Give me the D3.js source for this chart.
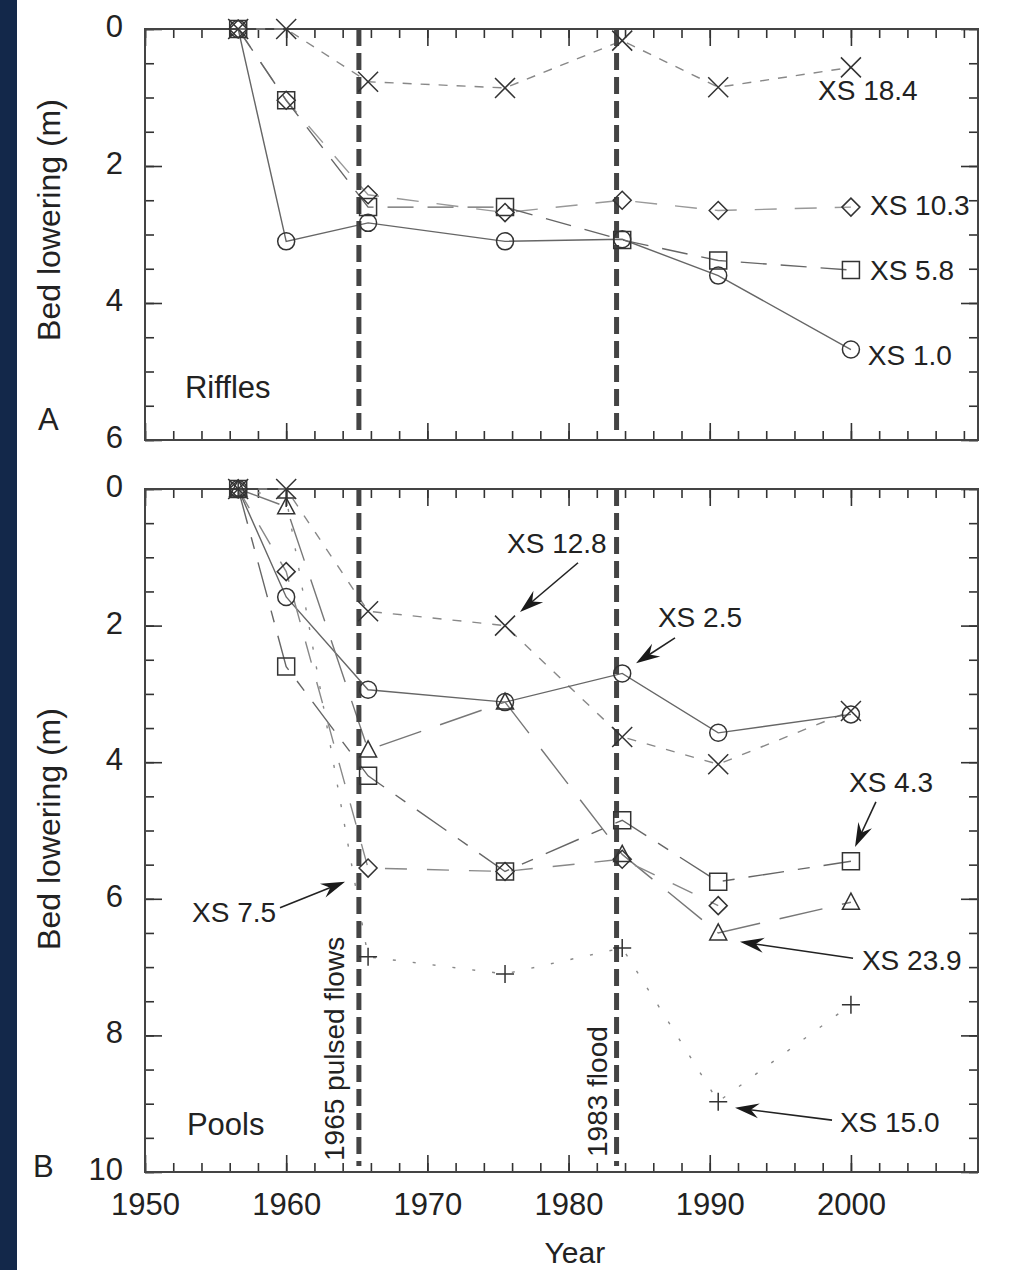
<!DOCTYPE html>
<html>
<head>
<meta charset="utf-8">
<script src="https://cdn.jsdelivr.net/npm/d3@7"></script>
<style>
  html, body { margin: 0; padding: 0; background: #fff; }
  svg { display: block; }
  text { font-family: "Liberation Sans", Arial, Helvetica, sans-serif; fill: #222; }
</style>
</head>
<body>
<svg id="chart" width="1010" height="1270"></svg>
<script>
// survey years (shared by both panels)
const years = [1956.6, 1960, 1965.8, 1975.5, 1983.8, 1990.6, 2000]

// A - riffles, bed lowering (m)
const xs10 = [0, 3.1, 2.83, 3.1, 3.07, 3.6, 4.68]
const xs58 = [0, 1.04, 2.6, 2.6, 3.08, 3.38, 3.52]
const xs103 = [0, 1.04, 2.42, 2.68, 2.5, 2.65, 2.6]
const xs184 = [0, 0, 0.77, 0.86, 0.17, 0.85, 0.56]

// B - pools, bed lowering (m)
const xs25 = [0, 1.58, 2.94, 3.12, 2.7, 3.57, 3.3]
const xs128 = [0, 0, 1.79, 2.0, 3.63, 4.03, 3.25]
const xs43 = [0, 2.6, 4.2, 5.6, 4.85, 5.75, 5.45]
const xs239 = [0, 0.26, 3.82, 3.12, 5.35, 6.5, 6.05]
const xs75 = [0, 1.21, 5.55, 5.6, 5.42, 6.1, null]
const xs150 = [0, 0.13, 6.85, 7.1, 6.72, 8.97, 7.55]

const eventYears = [1965.15, 1983.4]
const eventLabels = ["1965 pulsed flows", "1983 flood"]

const xMajor = [1950, 1960, 1970, 1980, 1990, 2000]
const xMinor = d3.range(1950, 2009, 2)
const yMajorA = [0, 2, 4, 6]
const yMajorB = [0, 2, 4, 6, 8, 10]

const riffles = [
  { name: "XS 18.4", values: xs184, shape: "x", dash: "9,9", color: "#888", lx: 1997.67, ly: 1.04 },
  { name: "XS 10.3", values: xs103, shape: "diamond", dash: "22,18", color: "#999", lx: 2001.35, ly: 2.72 },
  { name: "XS 5.8", values: xs58, shape: "square", dash: "26,14", color: "#666", lx: 2001.35, ly: 3.66 },
  { name: "XS 1.0", values: xs10, shape: "circle", dash: null, color: "#666", lx: 2001.2, ly: 4.9 }
]

const pools = [
  { name: "XS 12.8", values: xs128, shape: "x", dash: "9,11", color: "#888" },
  { name: "XS 2.5", values: xs25, shape: "circle", dash: null, color: "#666" },
  { name: "XS 4.3", values: xs43, shape: "square", dash: "36,14,12,14", color: "#666" },
  { name: "XS 23.9", values: xs239, shape: "triangle", dash: "44,20", color: "#777" },
  { name: "XS 7.5", values: xs75, shape: "diamond", dash: "22,20", color: "#888" },
  { name: "XS 15.0", values: xs150, shape: "plus", dash: "3,17", color: "#888" }
]

// pointer labels in panel B: text anchor, arrow tail, arrow tip (data units)
const poolNotes = [
  { text: "XS 12.8", tx: 1975.64, ty: 0.94, ax: 1980.67, ay: 1.08, hx: 1976.56, hy: 1.80 },
  { text: "XS 2.5", tx: 1986.33, ty: 2.02, ax: 1987.54, ay: 2.18, hx: 1984.78, hy: 2.55 },
  { text: "XS 4.3", tx: 1999.86, ty: 4.44, ax: 2001.77, ay: 4.58, hx: 2000.29, hy: 5.24 },
  { text: "XS 7.5", tx: 1953.33, ty: 6.34, ax: 1959.56, ay: 6.13, hx: 1964.17, hy: 5.75 },
  { text: "XS 23.9", tx: 2000.78, ty: 7.04, ax: 2000.15, ay: 6.87, hx: 1992.14, hy: 6.63 },
  { text: "XS 15.0", tx: 1999.22, ty: 9.41, ax: 1998.66, ay: 9.24, hx: 1991.79, hy: 9.06 }
]

const svg = d3.select("#chart")

svg.append("rect").attr("x", 0).attr("y", 0).attr("width", 17).attr("height", 1270).attr("fill", "#13284a")

const x = d3.scaleLinear().domain([1950, 2009]).range([145, 978])
const yA = d3.scaleLinear().domain([0, 6]).range([29, 440])
const yB = d3.scaleLinear().domain([0, 10]).range([489, 1172])

const markerPath = (shape) => {
  if (shape === "circle") return d3.arc()({ innerRadius: 0, outerRadius: 8.5, startAngle: 0, endAngle: 2 * Math.PI })
  if (shape === "square") return "M-8.5,-8.5H8.5V8.5H-8.5Z"
  if (shape === "diamond") return "M0,-9L9,0L0,9L-9,0Z"
  if (shape === "x") return "M-10,-10L10,10M-10,10L10,-10"
  if (shape === "plus") return "M-9,0H9M0,-9V9"
  if (shape === "triangle") return "M0,-9L8.5,7H-8.5Z"
}

const drawAxes = (y, yMajor, yMinor, withYears) => {
  const [x0, x1] = x.range()
  const [y0, y1] = y.range()
  const g = svg.append("g").attr("class", "axes")
  const tidy = sel => {
    sel.select(".domain").remove()
    sel.selectAll(".tick line").attr("stroke", "#333").attr("stroke-width", 1.6)
  }

  // bottom and top, ticks pointing inward
  g.append("g").attr("transform", `translate(0,${y1})`)
    .call(d3.axisTop(x).tickValues(xMinor).tickSize(9).tickFormat("")).call(tidy)
  g.append("g").attr("transform", `translate(0,${y1})`)
    .call(d3.axisTop(x).tickValues(xMajor).tickSize(17).tickFormat("")).call(tidy)
  g.append("g").attr("transform", `translate(0,${y0})`)
    .call(d3.axisBottom(x).tickValues(xMinor).tickSize(9).tickFormat("")).call(tidy)
  g.append("g").attr("transform", `translate(0,${y0})`)
    .call(d3.axisBottom(x).tickValues(xMajor).tickSize(17).tickFormat("")).call(tidy)

  // left and right
  g.append("g").attr("transform", `translate(${x0},0)`)
    .call(d3.axisRight(y).tickValues(yMinor).tickSize(9).tickFormat("")).call(tidy)
  g.append("g").attr("transform", `translate(${x0},0)`)
    .call(d3.axisRight(y).tickValues(yMajor).tickSize(17).tickFormat("")).call(tidy)
  g.append("g").attr("transform", `translate(${x1},0)`)
    .call(d3.axisLeft(y).tickValues(yMinor).tickSize(9).tickFormat("")).call(tidy)
  g.append("g").attr("transform", `translate(${x1},0)`)
    .call(d3.axisLeft(y).tickValues(yMajor).tickSize(17).tickFormat("")).call(tidy)

  // labels
  const yl = g.append("g").attr("transform", `translate(${x0},0)`)
    .call(d3.axisLeft(y).tickValues(yMajor).tickSize(0).tickPadding(22).tickFormat(d3.format("d")))
  yl.select(".domain").remove()
  yl.selectAll("text").attr("font-size", 31).attr("font-family", null).attr("fill", "#222").attr("dy", "0.24em")

  if (withYears) {
    const xl = g.append("g").attr("transform", `translate(0,${y1})`)
      .call(d3.axisBottom(x).tickValues(xMajor).tickSize(0).tickPadding(21).tickFormat(d3.format("d")))
    xl.select(".domain").remove()
    xl.selectAll("text").attr("font-size", 31).attr("font-family", null).attr("fill", "#222")
  }

  g.append("rect").attr("x", x0).attr("y", y0).attr("width", x1 - x0).attr("height", y1 - y0)
    .attr("fill", "none").attr("stroke", "#444").attr("stroke-width", 2)
}

const drawSeries = (y, series) => {
  const g = svg.append("g")
  series.forEach(s => {
    const pts = years.map((yr, i) => ({ year: yr, v: s.values[i] })).filter(d => d.v != null)
    const line = d3.line().x(d => x(d.year)).y(d => y(d.v))
    g.append("path").attr("d", line(pts)).attr("fill", "none")
      .attr("stroke", s.color).attr("stroke-width", 1.4)
      .attr("stroke-dasharray", s.dash)
  })
  return g
}

const drawMarkers = (y, series) => {
  const g = svg.append("g")
  series.forEach(s => {
    const pts = years.map((yr, i) => ({ year: yr, v: s.values[i] })).filter(d => d.v != null)
    g.selectAll(null).data(pts).enter().append("path")
      .attr("transform", d => `translate(${x(d.year)},${y(d.v)})`)
      .attr("d", markerPath(s.shape))
      .attr("fill", "none").attr("stroke", "#333").attr("stroke-width", 1.5)
  })
}

const drawEvents = (y) => {
  const [y0, y1] = y.range()
  svg.append("g").selectAll("line").data(eventYears).enter().append("line")
    .attr("x1", d => x(d)).attr("x2", d => x(d))
    .attr("y1", y0).attr("y2", y1 - 6)
    .attr("stroke", "#444").attr("stroke-width", 5)
    .attr("stroke-dasharray", "17,7")
}

// panel A
drawAxes(yA, yMajorA, d3.range(0, 6.01, 0.5), false)
drawSeries(yA, riffles)
drawEvents(yA)
drawMarkers(yA, riffles)

svg.append("g").selectAll("text").data(riffles).enter().append("text")
  .attr("x", d => x(d.lx)).attr("y", d => yA(d.ly))
  .attr("font-size", 28).text(d => d.name)

svg.append("text").attr("x", x(1952.83)).attr("y", yA(5.39)).attr("font-size", 31).text("Riffles")
svg.append("text").attr("x", 38).attr("y", 430).attr("font-size", 31).text("A")

// panel B
drawAxes(yB, yMajorB, d3.range(0, 10.01, 0.5), true)
drawSeries(yB, pools)
drawEvents(yB)
drawMarkers(yB, pools)

const notes = svg.append("g")
poolNotes.forEach(n => {
  const tx = x(n.ax), ty = yB(n.ay), hx = x(n.hx), hy = yB(n.hy)
  const ang = Math.atan2(hy - ty, hx - tx)
  const back = 15
  notes.append("line")
    .attr("x1", tx).attr("y1", ty)
    .attr("x2", hx - back * Math.cos(ang)).attr("y2", hy - back * Math.sin(ang))
    .attr("stroke", "#222").attr("stroke-width", 1.6)
  notes.append("path")
    .attr("d", "M0,0L-24,-7.5L-16,0L-24,7.5Z")
    .attr("transform", `translate(${hx},${hy}) rotate(${ang * 180 / Math.PI})`)
    .attr("fill", "#1a1a1a")
  notes.append("text").attr("x", x(n.tx)).attr("y", yB(n.ty)).attr("font-size", 28).text(n.text)
})

// event labels, rotated along the dashed lines
svg.append("g").selectAll("text").data(eventYears).enter().append("text")
  .attr("transform", (d, i) => `translate(${x(d) - (i === 0 ? 15 : 10)},${i === 0 ? 1161 : 1157}) rotate(-90)`)
  .attr("font-size", 28).text((d, i) => eventLabels[i])

svg.append("text").attr("x", x(1952.97)).attr("y", yB(9.46)).attr("font-size", 31).text("Pools")
svg.append("text").attr("x", 33).attr("y", 1177).attr("font-size", 31).text("B")

// axis titles
svg.append("text").attr("transform", `translate(60,220) rotate(-90)`)
  .attr("text-anchor", "middle").attr("font-size", 32).text("Bed lowering (m)")
svg.append("text").attr("transform", `translate(60,829) rotate(-90)`)
  .attr("text-anchor", "middle").attr("font-size", 32).text("Bed lowering (m)")
svg.append("text").attr("x", x(2000) - 276).attr("y", 1263)
  .attr("text-anchor", "middle").attr("font-size", 30).text("Year")
</script>
</body>
</html>
